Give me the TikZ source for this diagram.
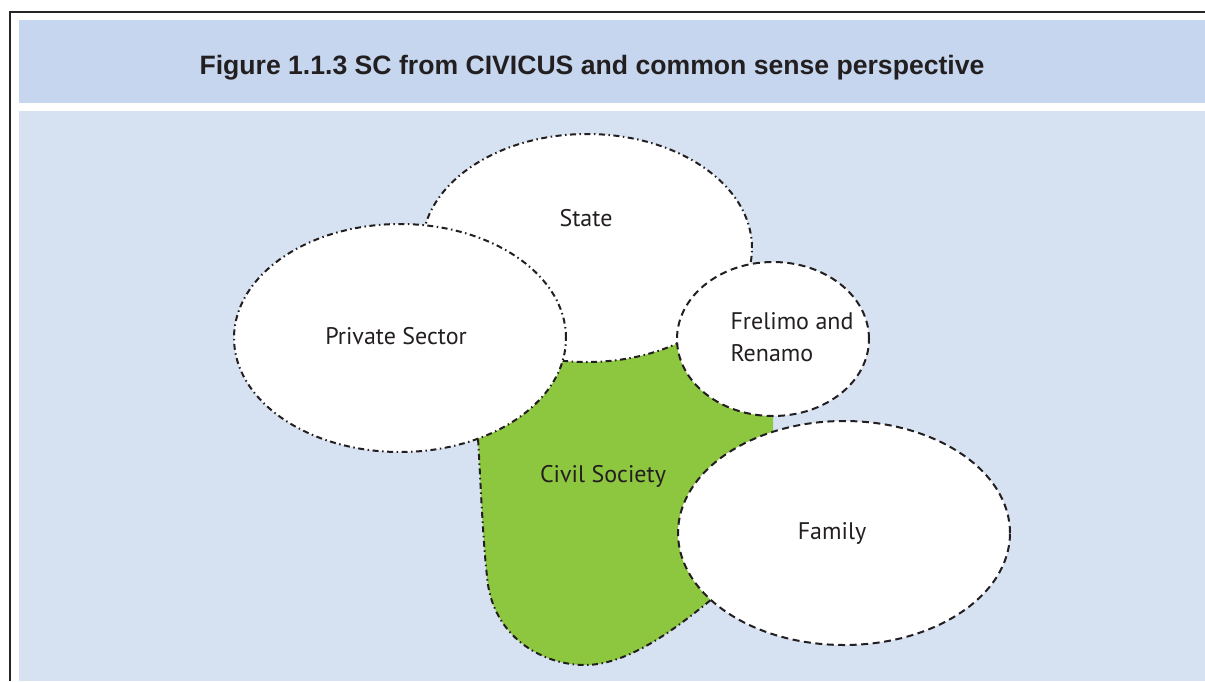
\documentclass[tikz,border=0pt]{standalone}
\usepackage{fontspec}
\usepackage{tikz}
\usepackage{xcolor}
\newfontfamily\titlefont{Liberation Sans}
\newfontfamily\labelfont{PT Sans}

\definecolor{bandblue}{HTML}{C5D6EE}
\definecolor{panelblue}{HTML}{D6E2F2}
\definecolor{civilgreen}{HTML}{8DC63F}
\definecolor{inkgrey}{HTML}{231F20}

\begin{document}
\begin{tikzpicture}[x=1pt,y=-1pt,
  dashdotline/.style={draw=inkgrey,line width=2pt,dash pattern=on 6pt off 3.5pt on 1.5pt off 3.5pt},
  dashline/.style={draw=inkgrey,line width=2pt,dash pattern=on 7pt off 4.5pt},
  sector/.style={font=\labelfont\fontsize{24}{32}\selectfont,text=inkgrey}]
\useasboundingbox (0,0) rectangle (1205,681);

% frame and panels
\fill[bandblue] (19,20) rectangle (1205,103);
\fill[panelblue] (19,111) rectangle (1205,681);
\draw[line width=2.4pt,color=black!85] (10,681) -- (10,12) -- (1205,12);
\node[font=\titlefont\bfseries\fontsize{26.6}{30}\selectfont,text=inkgrey] (title) at (592,67.5) {Figure 1.1.3 SC from CIVICUS and common sense perspective};

% civil society (behind the others)
\fill[civilgreen] (530,300) -- (476,420) -- (478,438)
  .. controls (481,490) and (483,545) .. (488,585)
  .. controls (497,640) and (545,665) .. (585,665)
  .. controls (630,665) and (680,625) .. (707,603)
  -- (750,570) -- (773,433) -- (773,415) -- (760,330) -- cycle;
\draw[dashdotline] (477,425) -- (478,438)
  .. controls (481,490) and (483,545) .. (488,585)
  .. controls (497,640) and (545,665) .. (585,665)
  .. controls (630,665) and (680,625) .. (712,599);

% the other sectors
\filldraw[fill=white,dashdotline] (587,248) ellipse [x radius=165pt, y radius=114pt];
\filldraw[fill=white,dashdotline] (400,338) ellipse [x radius=166pt, y radius=114pt];
\filldraw[fill=white,dashline] (773,339) ellipse [x radius=96pt, y radius=77pt];
\filldraw[fill=white,dashline] (844,533) ellipse [x radius=166pt, y radius=112pt];

\node[sector] (state) at (586,218) {State};
\node[sector] (private) at (396,336) {Private Sector};
\node[sector,align=left] (parties) at (792,337) {Frelimo and\\Renamo};
\node[sector] (civil) at (603,476) {Civil Society};
\node[sector] (family) at (832,533) {Family};

\end{tikzpicture}
\end{document}
